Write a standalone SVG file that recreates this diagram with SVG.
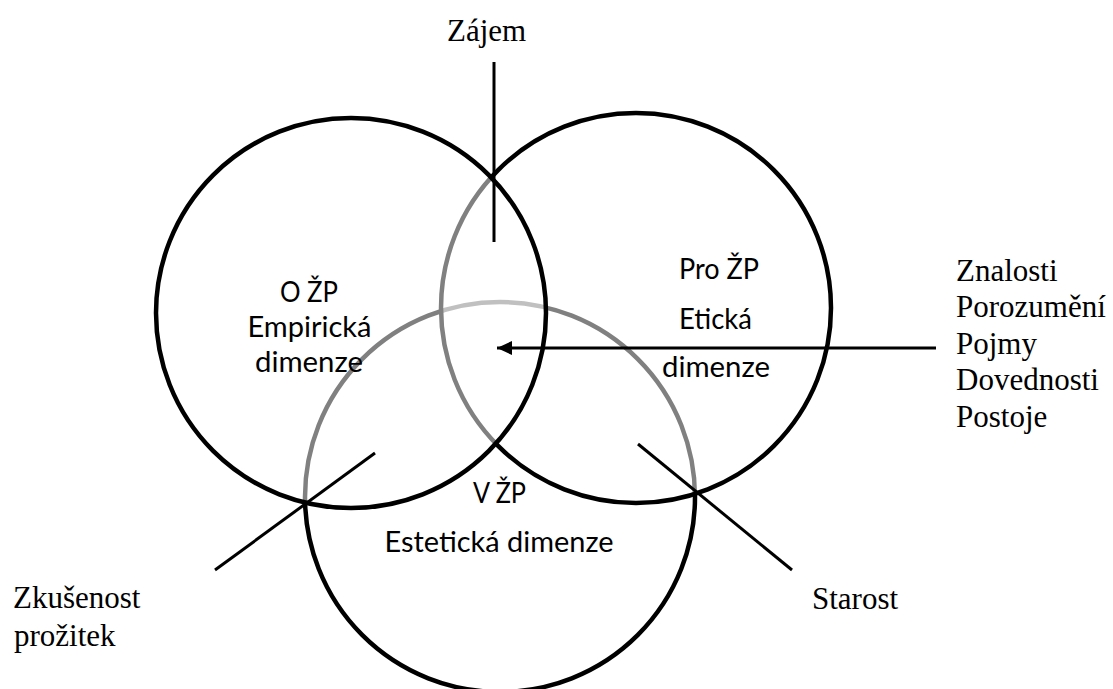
<svg xmlns="http://www.w3.org/2000/svg" width="1113" height="689" viewBox="0 0 1113 689">
  <defs>
    <style>
      .circ { fill: #ffffff; fill-opacity: 0.5; stroke: #000000; stroke-width: 4.5; }
      .ln { stroke: #000000; stroke-width: 3; fill: none; }
      .sans { font-family: Lato, "Open Sans", "Liberation Sans", sans-serif; font-size: 29px; fill: #000000; text-anchor: middle; }
      .tnr { font-family: 'Liberation Serif', 'DejaVu Serif', serif; font-size: 31px; fill: #000000; }
    </style>
    <marker id="arrow" markerWidth="15" markerHeight="14" refX="15" refY="7" orient="auto" markerUnits="userSpaceOnUse">
      <path d="M0,0 L15,7 L0,14 Z" fill="#000000"/>
    </marker>
  </defs>
  <rect x="0" y="0" width="1113" height="689" fill="#ffffff"/>

  <g id="circle-bottom">
    <circle class="circ" cx="500" cy="497" r="195"/>
  </g>
  <g id="circle-right">
    <circle class="circ" cx="636" cy="308" r="195"/>
  </g>
  <g id="circle-left">
    <circle class="circ" cx="351" cy="313" r="195"/>
  </g>

  <g id="connectors">
    <line class="ln" x1="494" y1="62" x2="494" y2="242"/>
    <line class="ln" x1="936" y1="348" x2="497" y2="348" marker-end="url(#arrow)"/>
    <line class="ln" x1="375" y1="453" x2="215" y2="570"/>
    <line class="ln" x1="638" y1="444" x2="792" y2="570"/>
  </g>

  <g id="label-left">
    <text class="sans" x="309" y="302" textLength="58" lengthAdjust="spacingAndGlyphs">O ŽP</text>
    <text class="sans" x="309.5" y="337" textLength="124" lengthAdjust="spacingAndGlyphs">Empirická</text>
    <text class="sans" x="309" y="372" textLength="108" lengthAdjust="spacingAndGlyphs">dimenze</text>
  </g>
  <g id="label-right">
    <text class="sans" x="719" y="279" textLength="80" lengthAdjust="spacingAndGlyphs">Pro ŽP</text>
    <text class="sans" x="715.5" y="329" textLength="73" lengthAdjust="spacingAndGlyphs">Etická</text>
    <text class="sans" x="716" y="377" textLength="108" lengthAdjust="spacingAndGlyphs">dimenze</text>
  </g>
  <g id="label-bottom">
    <text class="sans" x="499.5" y="503" textLength="53" lengthAdjust="spacingAndGlyphs">V ŽP</text>
    <text class="sans" x="499" y="552" textLength="229" lengthAdjust="spacingAndGlyphs">Estetická dimenze</text>
  </g>

  <g id="zajem">
    <text class="tnr" x="447" y="41">Zájem</text>
  </g>
  <g id="znalosti">
    <text class="tnr" x="956" y="280.5">Znalosti</text>
    <text class="tnr" x="956" y="317">Porozumění</text>
    <text class="tnr" x="956" y="353.7">Pojmy</text>
    <text class="tnr" x="956" y="390.3">Dovednosti</text>
    <text class="tnr" x="956" y="427">Postoje</text>
  </g>
  <g id="zkusenost">
    <text class="tnr" x="13" y="608">Zkušenost</text>
    <text class="tnr" x="14" y="646">prožitek</text>
  </g>
  <g id="starost">
    <text class="tnr" x="812" y="609">Starost</text>
  </g>
</svg>
